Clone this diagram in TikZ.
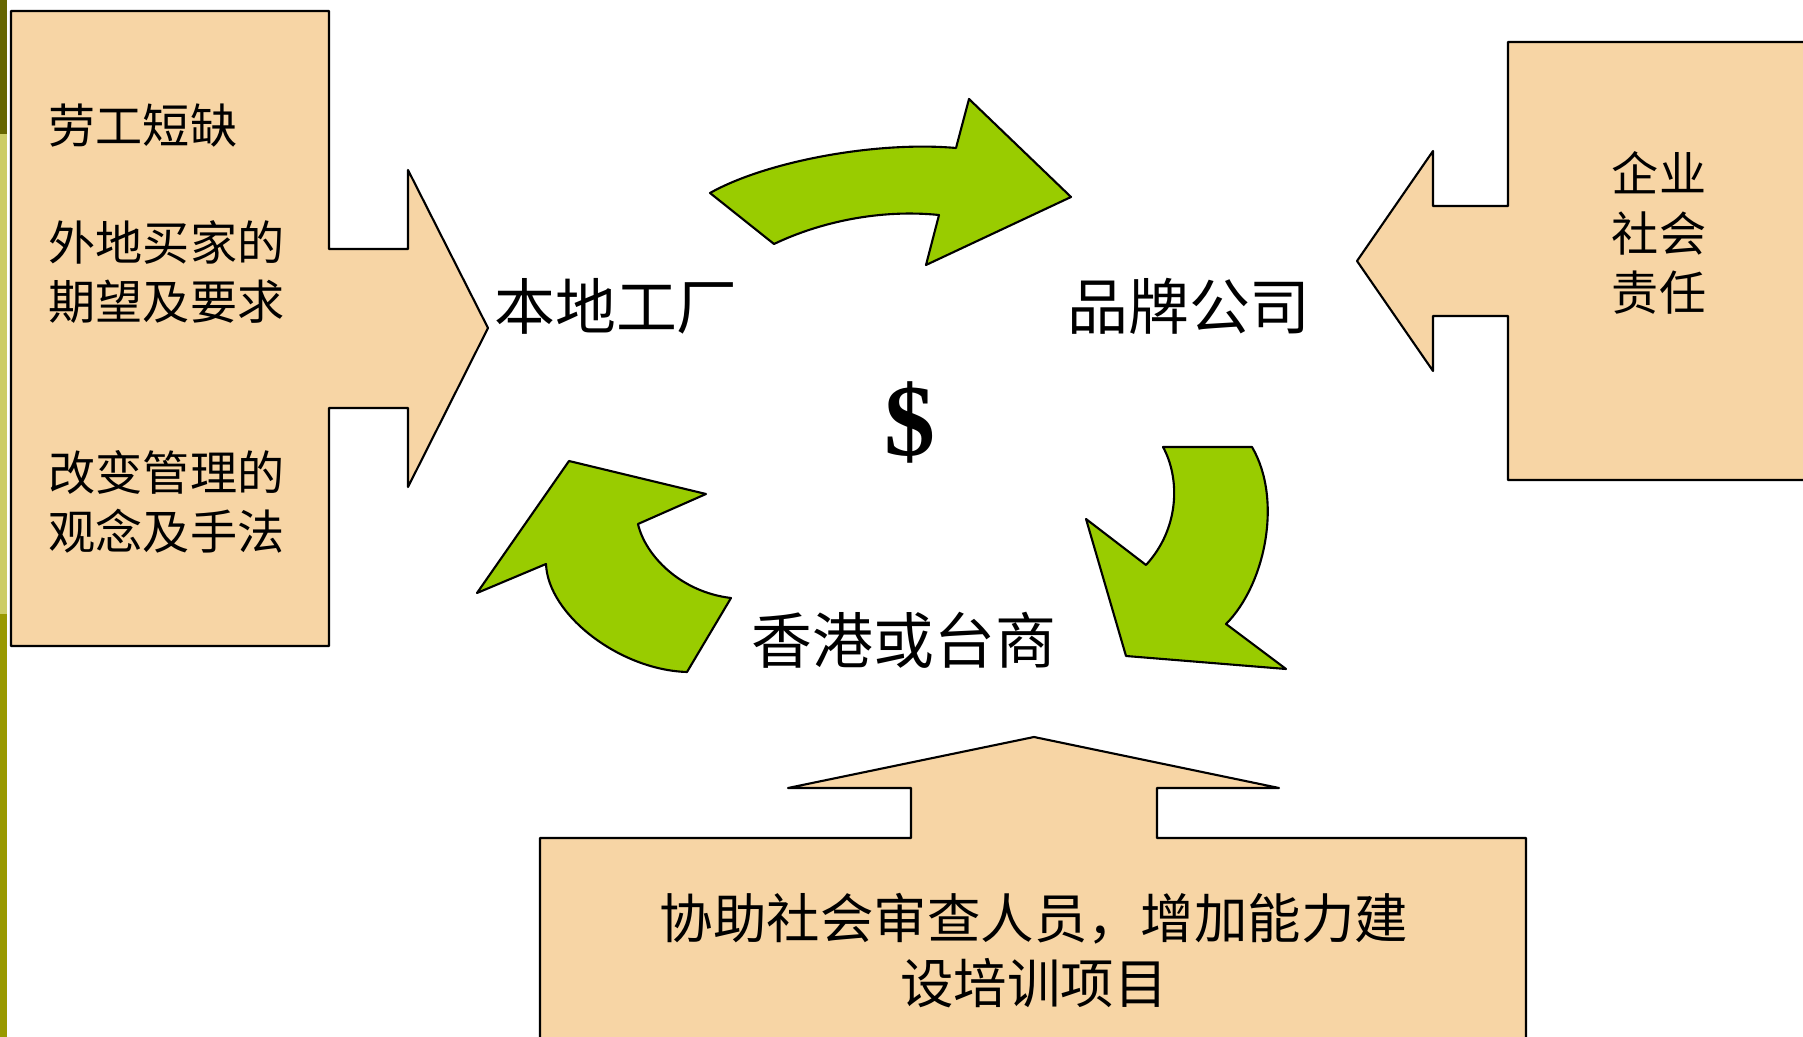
\documentclass[tikz,border=0pt]{standalone}
\usepackage{fontspec}
\newfontfamily\cjk{Noto Sans CJK SC}
\newfontfamily\moneyfont{Liberation Serif}
\usepackage{xcolor}

\definecolor{peach}{HTML}{F7D5A5}
\definecolor{leafgreen}{HTML}{99CC00}
\definecolor{olivedark}{HTML}{666600}
\definecolor{olivelight}{HTML}{CCCC66}
\definecolor{olivemid}{HTML}{999900}

\tikzset{
    callout/.style={draw=black, fill=peach, line width=0.6pt, line join=round},
    cyclearrow/.style={draw=black, fill=leafgreen, line width=0.6pt, line join=round},
    boxtext/.style={font=\cjk\fontsize{13.4}{16.8}\selectfont, inner sep=0pt},
    hubtext/.style={font=\cjk\fontsize{17.3}{20}\selectfont, inner sep=0pt}
}

\begin{document}
\begin{tikzpicture}[x=0.01cm, y=-0.01cm]
    \clip (0,0) rectangle (1803,1037);

    % Side strip
    \fill[olivedark] (0,0) rectangle (7,134);
    \fill[olivelight] (0,134) rectangle (7,614);
    \fill[olivemid] (0,614) rectangle (7,1037);

    % Callouts
    \draw[callout] (11,11) -- (329,11) -- (329,249) -- (408,249) -- (408,170)
        -- (488,328) -- (408,487) -- (408,408) -- (329,408) -- (329,646)
        -- (11,646) -- cycle;
    \draw[callout] (1810,42) -- (1508,42) -- (1508,206) -- (1433,206) -- (1433,151)
        -- (1357,261) -- (1433,371) -- (1433,316) -- (1508,316) -- (1508,480)
        -- (1810,480) -- cycle;
    \draw[callout] (540,1045) -- (540,838) -- (911,838) -- (911,788) -- (788,788)
        -- (1034,737) -- (1279,788) -- (1157,788) -- (1157,838) -- (1526,838)
        -- (1526,1045) -- cycle;

    % Cycle arrows
    \draw[cyclearrow] (710,193) .. controls (767,161) and (877,141) .. (956,148)
        -- (969,99) -- (1071,197) -- (926,265) -- (939,215)
        .. controls (880,209) and (820,222) .. (774,244) -- cycle;
    \draw[cyclearrow] (1163,447) -- (1252,447) .. controls (1283,500) and (1265,585) .. (1226,624)
        -- (1286,669) -- (1126,656) -- (1086,519) -- (1146,565)
        .. controls (1180,528) and (1180,478) .. (1163,447) -- cycle;
    \draw[cyclearrow] (731,598) -- (687,672) .. controls (620,670) and (548,615) .. (546,564)
        -- (477,593) -- (569,461) -- (706,494) -- (638,524)
        .. controls (645,555) and (680,592) .. (731,598) -- cycle;

    % Left texts
    \node (shortage) [boxtext, anchor=west] at (48,126) {劳工短缺};
    \node (buyer) [boxtext, anchor=west, align=left] at (48,272) {外地买家的\\期望及要求};
    \node (change) [boxtext, anchor=west, align=left] at (48,502) {改变管理的\\观念及手法};

    % Right and bottom texts
    \node (csr) [boxtext, align=center] at (1659,233) {企业\\社会\\责任};
    \node (audit) [font=\cjk\fontsize{15.2}{18.5}\selectfont, inner sep=0pt, align=center]
        at (1034,951) {协助社会审查人员，增加能力建\\设培训项目};

    % Cycle labels
    \node (factory) [hubtext] at (616,306) {本地工厂};
    \node (brand) [hubtext] at (1189,306) {品牌公司};
    \node (trader) [hubtext] at (904,640) {香港或台商};
    \node (money) [font=\moneyfont\bfseries\fontsize{29}{30}\selectfont, inner sep=0pt] at (910,422) {\$};
\end{tikzpicture}
\end{document}
